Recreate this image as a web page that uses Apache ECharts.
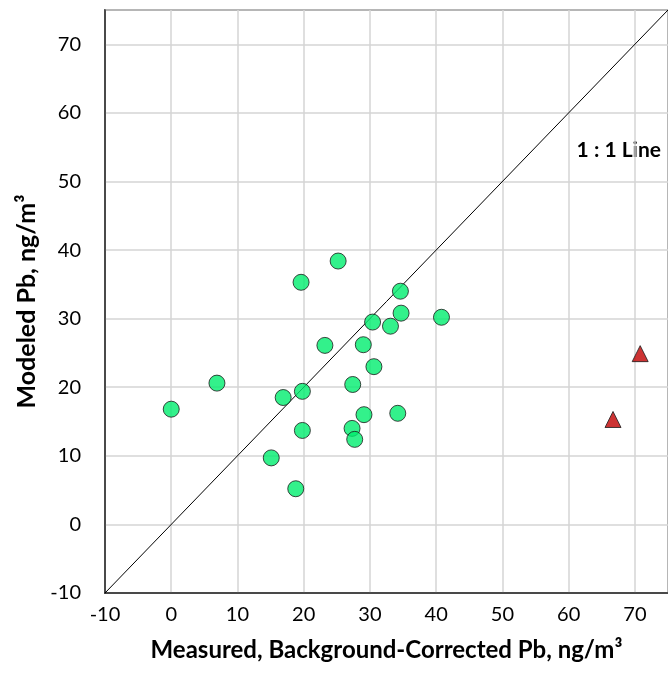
<!DOCTYPE html>
<html>
<head>
<meta charset="utf-8">
<script src="https://cdn.jsdelivr.net/npm/echarts@6/dist/echarts.min.js"></script>
<style>
  html, body { margin: 0; padding: 0; background: #fff; }
  #chart { width: 668px; height: 677px; }
</style>
</head>
<body>
<div id="chart"></div>
<script>
// Monitors: measured (background-corrected) vs modeled Pb, ng/m3
const measured = [25.2, 19.6, 23.2, 6.9, 0.0, 16.9, 19.8, 19.8, 34.6, 34.7, 30.4, 40.8,
                  33.1, 29.0, 30.6, 27.4, 29.1, 34.2, 27.3, 27.7, 15.1, 18.8];
const modeled  = [38.4, 35.3, 26.1, 20.6, 16.8, 18.5, 19.4, 13.7, 34.0, 30.8, 29.5, 30.2,
                  28.9, 26.2, 23.0, 20.4, 16.0, 16.2, 14.0, 12.4, 9.7, 5.2];

// Outlier monitors shown as triangles
const outlierMeasured = [70.8, 66.7];
const outlierModeled  = [24.9, 15.3];

// Reference 1:1 line end points
const oneToOne = [-10, 75];

const xTicks = [-10, 0, 10, 20, 30, 40, 50, 60, 70];
const yTicks = [-10, 0, 10, 20, 30, 40, 50, 60, 70];

const FONT = 'Lato';

const chart = echarts.init(document.getElementById('chart'), null, { renderer: 'canvas' });

const axisCommon = {
  type: 'value',
  min: -10,
  max: 75,
  interval: 10,
  axisTick: { show: false },
  axisLine: { show: true, onZero: false, lineStyle: { color: '#262626', width: 1.5 } },
  splitLine: { show: true, lineStyle: { color: '#d4d4d4', width: 1.5 } },
  axisLabel: {
    color: '#000',
    fontFamily: FONT,
    fontSize: 20,
    showMaxLabel: false
  },
  nameLocation: 'middle',
  nameTextStyle: { color: '#000', fontFamily: FONT, fontSize: 24, fontWeight: 'bold' }
};

chart.setOption({
  animation: false,
  grid: {
    left: 105,
    top: 10,
    right: -10,
    bottom: 84,
    show: true,
    borderColor: '#262626',
    borderWidth: 1.5,
    containLabel: false
  },
  xAxis: Object.assign({}, axisCommon, {
    name: 'Measured, Background-Corrected Pb, ng/m³',
    nameGap: 45,
    axisLabel: Object.assign({}, axisCommon.axisLabel, { margin: 12,
      formatter: v => (xTicks.indexOf(v) >= 0 ? String(v) : '') })
  }),
  yAxis: Object.assign({}, axisCommon, {
    name: 'Modeled Pb, ng/m³',
    nameGap: 63,
    nameTextStyle: Object.assign({}, axisCommon.nameTextStyle, { fontSize: 25 }),
    axisLabel: Object.assign({}, axisCommon.axisLabel, { margin: 24,
      formatter: v => (yTicks.indexOf(v) >= 0 ? String(v) : '') })
  }),
  series: [
    {
      type: 'line',
      data: [[oneToOne[0], oneToOne[0]], [oneToOne[1], oneToOne[1]]],
      symbol: 'none',
      lineStyle: { color: '#000', width: 1 },
      silent: true,
      z: 2
    },
    {
      type: 'scatter',
      data: measured.map((m, i) => [m, modeled[i]]),
      symbol: 'circle',
      symbolSize: 16,
      itemStyle: { color: '#00ee6e', borderColor: '#1a1a1a', borderWidth: 1 },
      z: 3
    },
    {
      type: 'scatter',
      data: outlierMeasured.map((m, i) => [m, outlierModeled[i]]),
      symbol: 'triangle',
      symbolSize: [16, 16],
      itemStyle: { color: '#c00000', borderColor: '#1a1a1a', borderWidth: 1 },
      z: 3
    }
  ],
  graphic: [
    {
      type: 'text',
      right: 7,
      top: 140,
      style: { text: '1 : 1 Line', fill: '#000', font: 'bold 21px ' + FONT }
    }
  ]
});
</script>
</body>
</html>
